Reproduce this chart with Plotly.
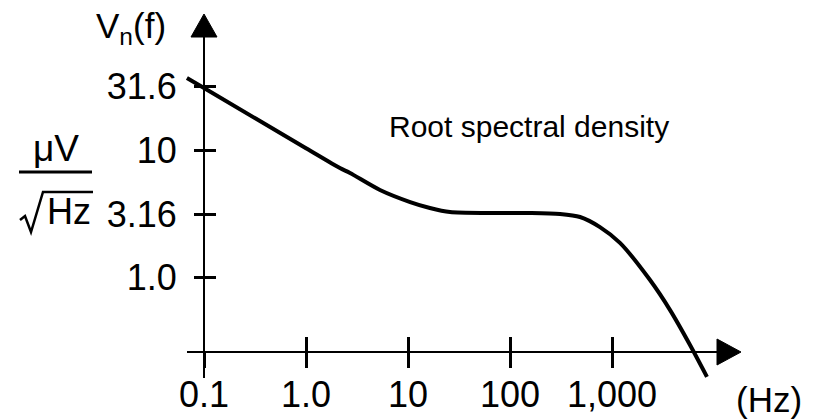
import plotly.graph_objects as go

# ---- data ----
freq_hz = [0.068, 0.1, 1.0, 2.15, 2.70, 5.31, 10.5, 16.4, 25.8, 63.7, 157, 309, 486, 762, 1197, 2360, 3710, 5820, 8530]
vn_uv = [37.0, 30.9, 10.4, 7.27, 6.65, 4.89, 3.93, 3.53, 3.28, 3.23, 3.23, 3.17, 3.00, 2.50, 1.88, 0.96, 0.558, 0.297, 0.167]

x_tick_vals = [0.1, 1.0, 10, 100, 1000]
x_tick_text = ["0.1", "1.0", "10", "100", "1,000"]
y_tick_vals = [1.0, 3.16, 10, 31.6]
y_tick_text = ["1.0", "3.16", "10", "31.6"]

# ---- layout helpers ----
W, H = 823, 419
X_RANGE = [-3.0, 5.0686]     # log10 Hz across the full width
Y_RANGE = [-1.1083, 2.1805]  # log10 uV across the full height
FONT = "Liberation Sans, Arial, Helvetica, sans-serif"


def px(x):
    return x / W


def py(y):
    return 1 - y / H


AX_X = 204   # pixel column of the vertical axis
AX_Y = 352   # pixel row of the horizontal axis

fig = go.Figure()
fig.add_trace(go.Scatter(
    x=freq_hz, y=vn_uv, mode="lines",
    line=dict(color="black", width=4, shape="spline", smoothing=0.8),
    xaxis="x", yaxis="y", hoverinfo="skip", showlegend=False,
))
# helper trace so the overlaying axes (inner halves of the ticks) are drawn
fig.add_trace(go.Scatter(
    x=[x_tick_vals[1]], y=[y_tick_vals[0]], mode="markers",
    marker=dict(opacity=0), xaxis="x2", yaxis="y2",
    hoverinfo="skip", showlegend=False,
))

common = dict(type="log", showgrid=False, zeroline=False, showline=False,
              tickcolor="black", tickwidth=3)

radical = (f"M {px(20)},{py(220)} L {px(25)},{py(216)} L {px(31)},{py(232)} "
           f"L {px(43)},{py(192)} L {px(93)},{py(192)}")

shapes = [
    # horizontal axis line
    dict(type="line", xref="paper", yref="paper",
         x0=px(187), x1=px(720), y0=py(AX_Y), y1=py(AX_Y),
         line=dict(color="black", width=2)),
    # vertical axis line
    dict(type="line", xref="paper", yref="paper",
         x0=px(AX_X), x1=px(AX_X), y0=py(378), y1=py(34),
         line=dict(color="black", width=2)),
    # arrow heads
    dict(type="path", xref="paper", yref="paper",
         path=f"M {px(741)},{py(AX_Y)} L {px(717)},{py(339)} L {px(717)},{py(365)} Z",
         fillcolor="black", line=dict(color="black", width=1)),
    dict(type="path", xref="paper", yref="paper",
         path=f"M {px(AX_X)},{py(14)} L {px(191)},{py(37)} L {px(217)},{py(37)} Z",
         fillcolor="black", line=dict(color="black", width=1)),
    # fraction bar
    dict(type="line", xref="paper", yref="paper",
         x0=px(19), x1=px(92), y0=py(172), y1=py(172),
         line=dict(color="black", width=3)),
    # radical sign
    dict(type="path", xref="paper", yref="paper", path=radical,
         line=dict(color="black", width=2.5)),
]

annotations = [
    dict(text="V<sub>n</sub>(f)", x=px(131), y=py(28), xref="paper", yref="paper",
         xanchor="center", yanchor="middle", showarrow=False,
         font=dict(family=FONT, size=35, color="black")),
    dict(text="Root spectral density", x=px(387), y=py(126), xref="paper", yref="paper",
         xanchor="left", yanchor="middle", showarrow=False,
         font=dict(family=FONT, size=30, color="black")),
    dict(text="\u03bcV", x=px(56), y=py(149), xref="paper", yref="paper",
         xanchor="center", yanchor="middle", showarrow=False,
         font=dict(family=FONT, size=37, color="black")),
    dict(text="Hz", x=px(45), y=py(211), xref="paper", yref="paper",
         xanchor="left", yanchor="middle", showarrow=False,
         font=dict(family=FONT, size=36, color="black")),
    dict(text="(Hz)", x=px(769), y=py(399), xref="paper", yref="paper",
         xanchor="center", yanchor="middle", showarrow=False,
         font=dict(family=FONT, size=35, color="black")),
]

fig.update_layout(
    width=W, height=H, autosize=False,
    margin=dict(l=0, r=0, t=0, b=0, pad=0),
    paper_bgcolor="white", plot_bgcolor="white",
    showlegend=False,
    xaxis=dict(**common, range=X_RANGE, domain=[0, 1], anchor="free", position=py(AX_Y),
               tickmode="array", tickvals=x_tick_vals, ticktext=x_tick_text,
               ticks="outside", ticklen=15, ticklabelstandoff=-4,
               tickfont=dict(family=FONT, size=36, color="black")),
    xaxis2=dict(**common, range=X_RANGE, overlaying="x", anchor="free", position=py(AX_Y),
                tickmode="array", tickvals=x_tick_vals[1:], ticks="inside", ticklen=15,
                showticklabels=False),
    yaxis=dict(**common, range=Y_RANGE, domain=[0, 1], anchor="free", position=px(AX_X),
               tickmode="array", tickvals=y_tick_vals, ticktext=y_tick_text,
               ticks="outside", ticklen=10, ticklabelstandoff=10,
               tickfont=dict(family=FONT, size=36, color="black")),
    yaxis2=dict(**common, range=Y_RANGE, overlaying="y", anchor="free", position=px(AX_X),
                tickmode="array", tickvals=y_tick_vals, ticks="inside", ticklen=11,
                showticklabels=False),
    shapes=shapes,
    annotations=annotations,
)

fig.write_html("out.html", config={"displayModeBar": False},
               post_script="document.body.style.margin='0px';document.body.style.overflow='hidden';")
